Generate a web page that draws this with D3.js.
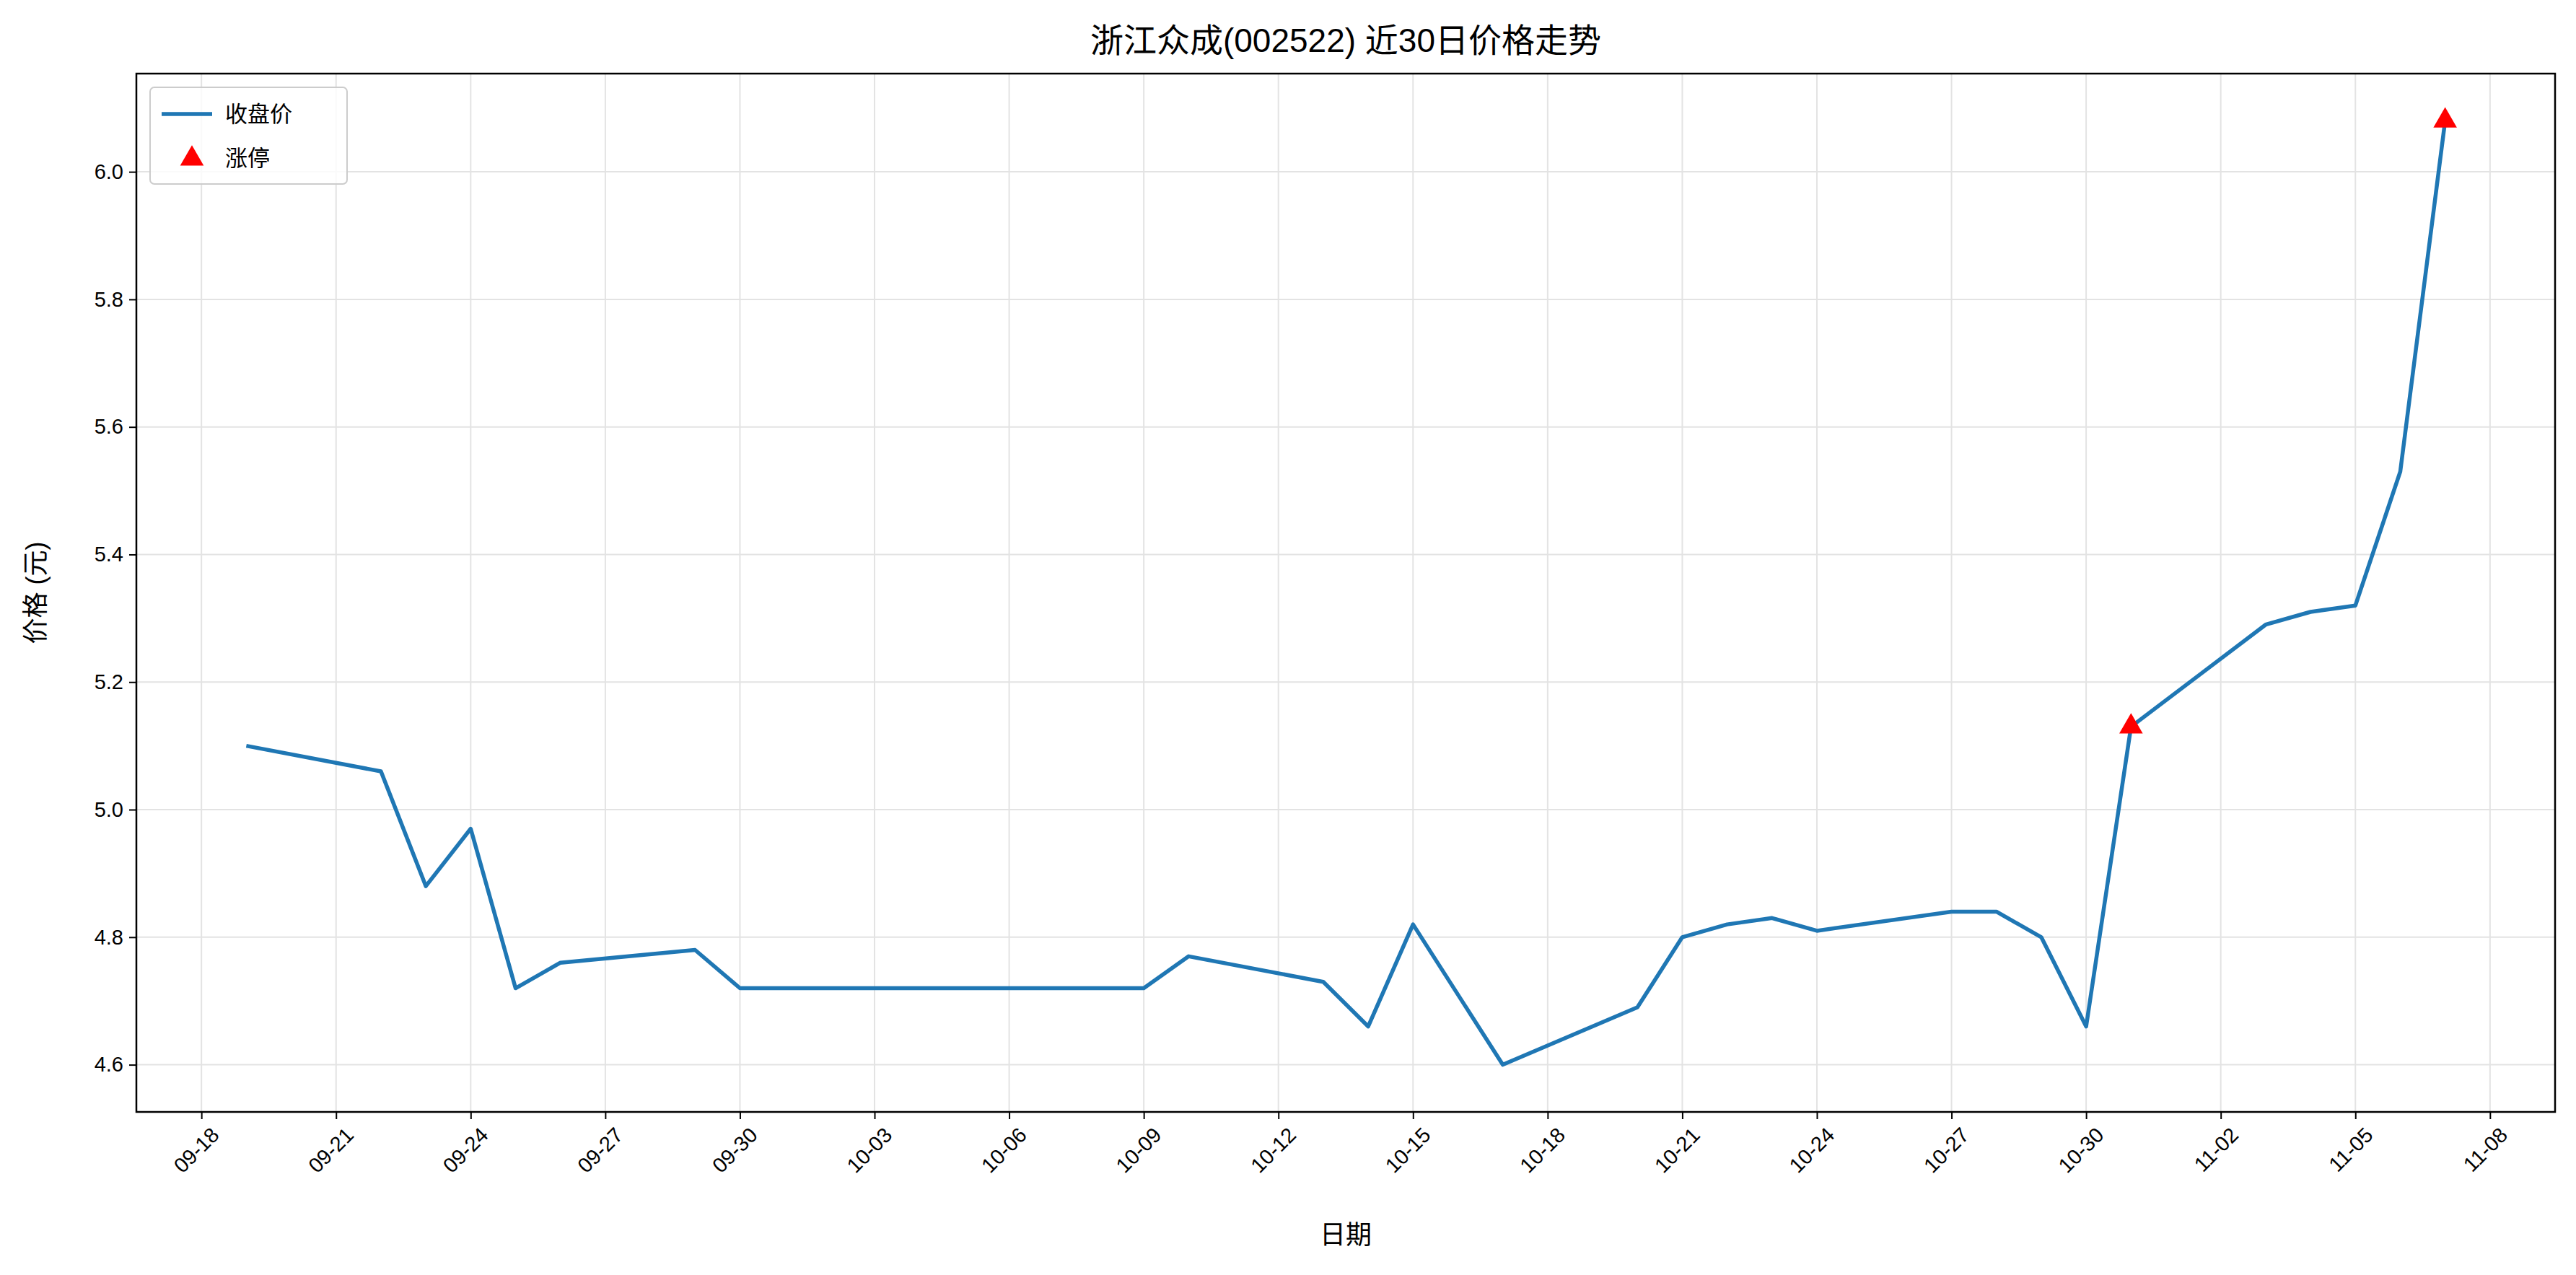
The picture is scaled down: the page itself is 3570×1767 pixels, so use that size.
<!DOCTYPE html>
<html><head><meta charset="utf-8">
<script src="https://cdn.jsdelivr.net/npm/d3@7"></script>
<style>body{margin:0;background:#fff}text{font-family:"Liberation Sans","Noto Sans CJK SC",sans-serif}</style>
</head><body><svg id="c" width="3570" height="1767"></svg>
<script>
const dates=["2025-09-19","2025-09-22","2025-09-23","2025-09-24","2025-09-25","2025-09-26","2025-09-29","2025-09-30","2025-10-09","2025-10-10","2025-10-13","2025-10-14","2025-10-15","2025-10-17","2025-10-20","2025-10-21","2025-10-22","2025-10-23","2025-10-24","2025-10-27","2025-10-28","2025-10-29","2025-10-30","2025-10-31","2025-11-03","2025-11-04","2025-11-05","2025-11-06","2025-11-07"];
const closes=[5.10,5.06,4.88,4.97,4.72,4.76,4.78,4.72,4.72,4.77,4.73,4.66,4.82,4.60,4.69,4.80,4.82,4.83,4.81,4.84,4.84,4.80,4.66,5.13,5.29,5.31,5.32,5.53,6.08];
const limitUpDates=["2025-10-31","2025-11-07"];
const yTicks=[4.6,4.8,5.0,5.2,5.4,5.6,5.8,6.0];
const title="浙江众成(002522) 近30日价格走势";
const p=d3.timeParse("%Y-%m-%d");
const data=dates.map((d,i)=>({d:p(d),v:closes[i]}));
const L=189,R=3541,T=102,B=1541;
const svg=d3.select("#c");
const t0=data[0].d,t1=data[data.length-1].d,span=t1-t0;
const x=d3.scaleTime().domain([new Date(+t0-span*0.05),new Date(+t1+span*0.05)]).range([L,R]);
const vmin=d3.min(closes),vmax=d3.max(closes),vr=vmax-vmin;
const y=d3.scaleLinear().domain([vmin-vr*0.05,vmax+vr*0.05]).range([B,T]);
const xt=d3.timeDay.range(p("2025-09-18"),p("2025-11-09"),3);
const g=svg.append("g");
g.selectAll(".gx").data(xt).join("line").attr("x1",d=>x(d)).attr("x2",d=>x(d)).attr("y1",T).attr("y2",B).attr("stroke","#e3e3e3").attr("stroke-width",2);
g.selectAll(".gy").data(yTicks).join("line").attr("y1",d=>y(d)).attr("y2",d=>y(d)).attr("x1",L).attr("x2",R).attr("stroke","#e3e3e3").attr("stroke-width",2);
const xa=svg.append("g").attr("transform",`translate(0,${B})`).call(d3.axisBottom(x).tickValues(xt).tickFormat(d3.timeFormat("%m-%d")).tickSize(10).tickPadding(6));
xa.selectAll("text").attr("font-size",29).attr("fill","#000").attr("text-anchor","end").attr("dx","-0.2em").attr("dy","0.9em").attr("transform","rotate(-45)");
const ya=svg.append("g").attr("transform",`translate(${L},0)`).call(d3.axisLeft(y).tickValues(yTicks).tickFormat(d3.format(".1f")).tickSize(10).tickPadding(8));
ya.selectAll("text").attr("font-size",29).attr("fill","#000");
svg.selectAll(".domain").remove();
svg.selectAll(".tick line").attr("stroke","#000").attr("stroke-width",2);
svg.append("path").datum(data).attr("fill","none").attr("stroke","#1f77b4").attr("stroke-width",5.5).attr("stroke-linejoin","round")
 .attr("d",d3.line().x(d=>x(d.d)).y(d=>y(d.v)));
const lu=data.filter(d=>limitUpDates.includes(d3.timeFormat("%Y-%m-%d")(d.d)));
svg.selectAll(".m").data(lu).join("path").attr("transform",d=>`translate(${x(d.d)},${y(d.v)})`).attr("d",d3.symbol(d3.symbolTriangle,460)).attr("fill","red");
svg.append("rect").attr("x",L).attr("y",T).attr("width",R-L).attr("height",B-T).attr("fill","none").attr("stroke","#000").attr("stroke-width",2.5);
svg.append("text").attr("x",(L+R)/2).attr("y",72).attr("text-anchor","middle").attr("font-size",46).text(title);
svg.append("text").attr("x",(L+R)/2).attr("y",1724).attr("text-anchor","middle").attr("font-size",36).text("日期");
svg.append("text").attr("transform",`translate(62,${(T+B)/2}) rotate(-90)`).attr("text-anchor","middle").attr("font-size",36).text("价格 (元)");
const lg=svg.append("g").attr("transform",`translate(208,121)`);
lg.append("rect").attr("width",273).attr("height",134).attr("rx",6).attr("fill","#fff").attr("fill-opacity",0.8).attr("stroke","#ccc").attr("stroke-width",2);
lg.append("line").attr("x1",16).attr("x2",86).attr("y1",37).attr("y2",37).attr("stroke","#1f77b4").attr("stroke-width",5.5);
lg.append("text").attr("x",168-120+56).attr("y",48).attr("font-size",31).text("收盘价");
lg.append("path").attr("transform","translate(58,99)").attr("d",d3.symbol(d3.symbolTriangle,460)).attr("fill","red");
lg.append("text").attr("x",104).attr("y",109).attr("font-size",31).text("涨停");
</script></body></html>
